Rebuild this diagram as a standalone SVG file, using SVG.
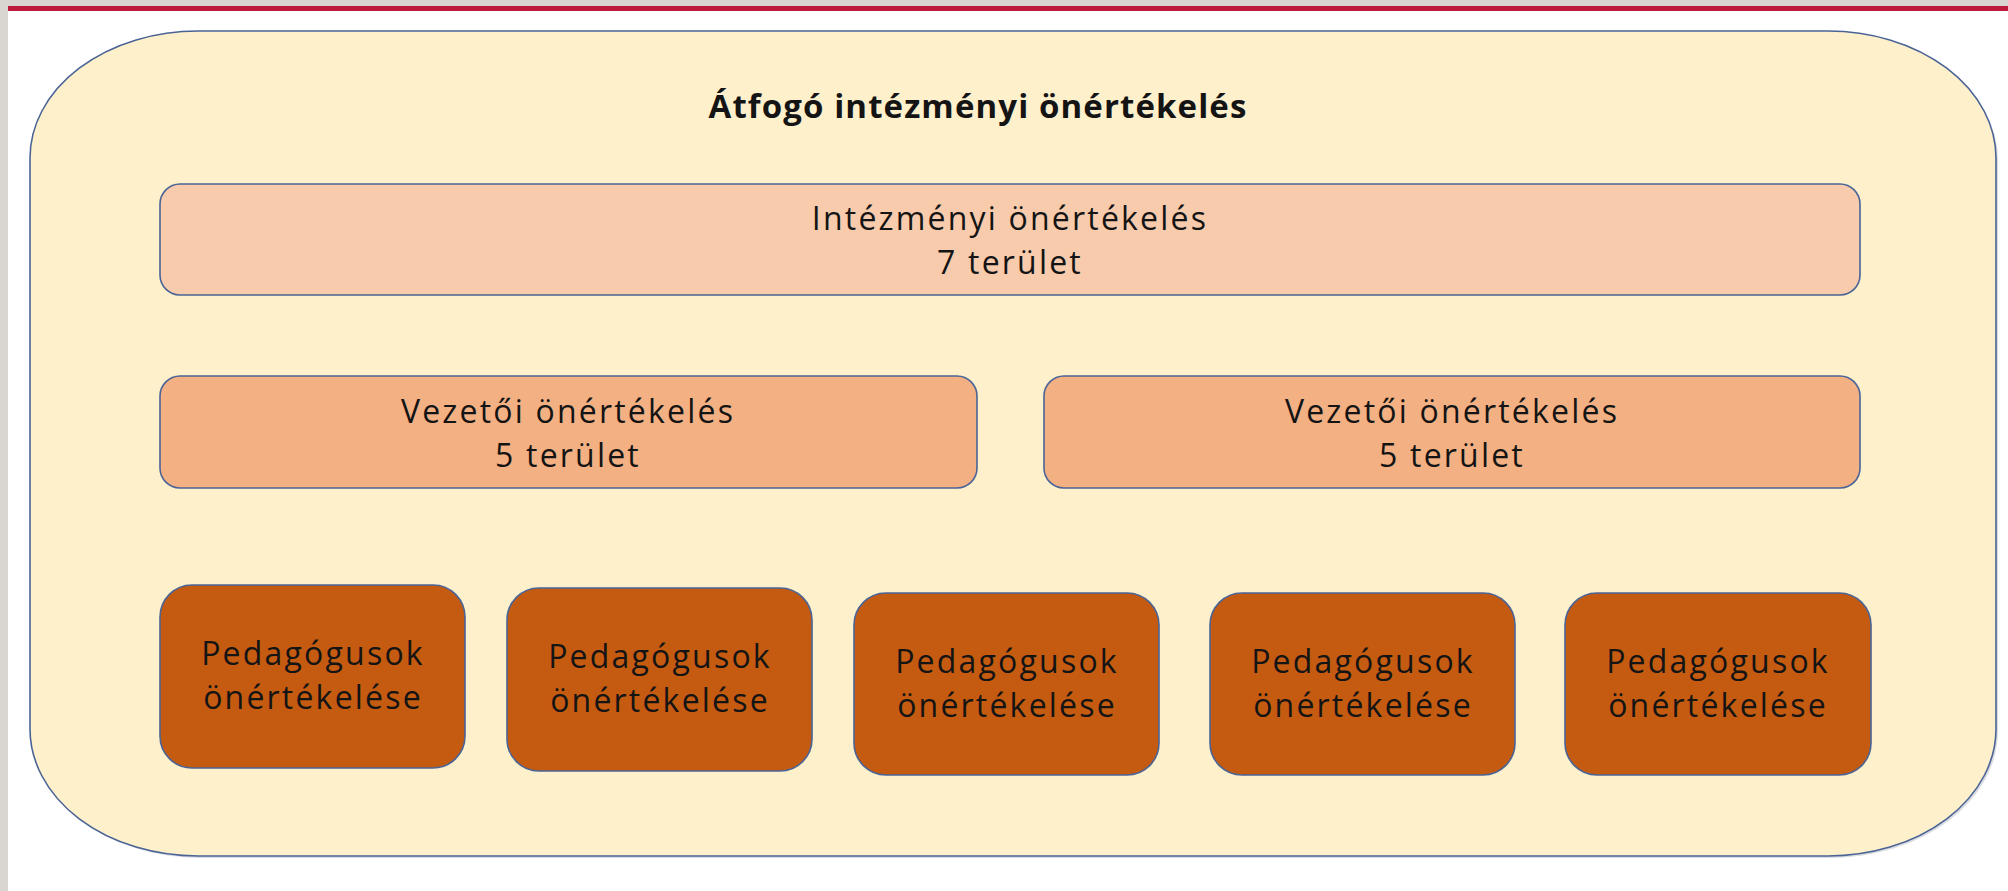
<svg xmlns="http://www.w3.org/2000/svg" width="2008" height="891" viewBox="0 0 2008 891">
  <style>
    .t { font-family: "Open Sans", "Liberation Sans", sans-serif; fill: #141414; text-anchor: middle; font-size: 32px; letter-spacing: 2.2px; }
    .title { font-size: 33px; font-weight: bold; letter-spacing: 1.1px; }
    .box { stroke: #4A6496; stroke-width: 1.6; }
    .inst { fill: #F7CBAC; }
    .lead { fill: #F3B083; }
    .teach { fill: #C55A11; }
  </style>
  <rect x="0" y="0" width="2008" height="891" fill="#FFFFFF"/>
  <rect x="0" y="0" width="2008" height="6" fill="#D9D6D2"/>
  <rect x="0" y="0" width="8" height="891" fill="#D9D6D2"/>
  <rect x="8" y="6" width="2000" height="5" fill="#BE1A3C"/>

  <g id="outer">
    <rect x="32" y="33" width="1966" height="825" rx="168" ry="127" fill="#B8BCC8" opacity="0.5"/>
    <rect x="30" y="31" width="1966" height="825" rx="168" ry="127" fill="#FFF0CC" class="box"/>
    <text class="t title" x="978" y="118">Átfogó intézményi önértékelés</text>
  </g>

  <g id="intezmenyi">
    <rect x="160" y="184" width="1700" height="111" rx="20" ry="20" class="box inst"/>
    <text class="t" x="1010" y="230">Intézményi önértékelés</text>
    <text class="t" x="1010" y="274">7 terület</text>
  </g>

  <g id="vezetoi1">
    <rect x="160" y="376" width="817" height="112" rx="20" ry="20" class="box lead"/>
    <text class="t" x="568" y="423">Vezetői önértékelés</text>
    <text class="t" x="568" y="467">5 terület</text>
  </g>

  <g id="vezetoi2">
    <rect x="1044" y="376" width="816" height="112" rx="20" ry="20" class="box lead"/>
    <text class="t" x="1452" y="423">Vezetői önértékelés</text>
    <text class="t" x="1452" y="467">5 terület</text>
  </g>

  <g id="ped1">
    <rect x="160" y="585" width="305" height="183" rx="32" ry="32" class="box teach"/>
    <text class="t" x="313" y="665">Pedagógusok</text>
    <text class="t" x="313" y="709">önértékelése</text>
  </g>
  <g id="ped2">
    <rect x="507" y="588" width="305" height="183" rx="32" ry="32" class="box teach"/>
    <text class="t" x="660" y="668">Pedagógusok</text>
    <text class="t" x="660" y="712">önértékelése</text>
  </g>
  <g id="ped3">
    <rect x="854" y="593" width="305" height="182" rx="32" ry="32" class="box teach"/>
    <text class="t" x="1007" y="673">Pedagógusok</text>
    <text class="t" x="1007" y="717">önértékelése</text>
  </g>
  <g id="ped4">
    <rect x="1210" y="593" width="305" height="182" rx="32" ry="32" class="box teach"/>
    <text class="t" x="1363" y="673">Pedagógusok</text>
    <text class="t" x="1363" y="717">önértékelése</text>
  </g>
  <g id="ped5">
    <rect x="1565" y="593" width="306" height="182" rx="32" ry="32" class="box teach"/>
    <text class="t" x="1718" y="673">Pedagógusok</text>
    <text class="t" x="1718" y="717">önértékelése</text>
  </g>

  <g id="connectors"></g>
</svg>
